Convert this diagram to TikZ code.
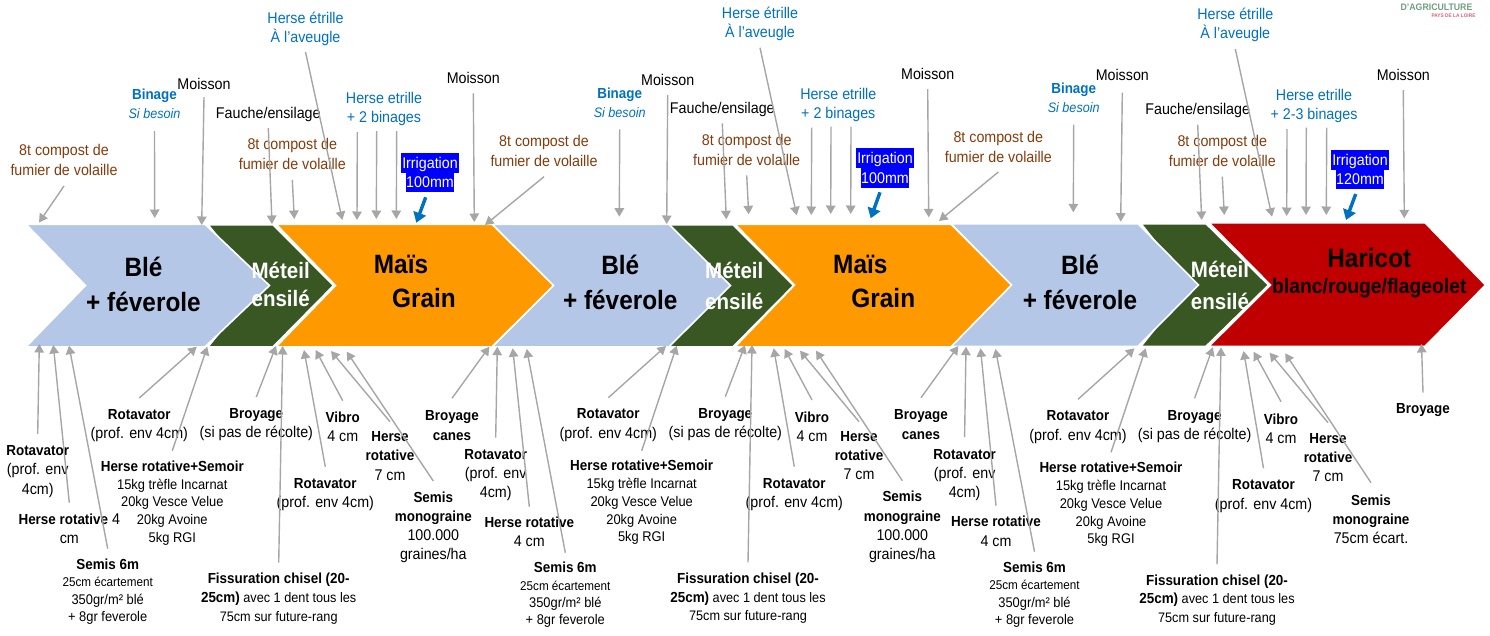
\documentclass[tikz,border=0pt]{standalone}
\usepackage{fontspec}
\setmainfont[FakeStretch=0.92]{Liberation Sans}
\usetikzlibrary{arrows.meta}
\definecolor{cgray}{HTML}{A6A6A6}
\definecolor{cbrown}{HTML}{843C0C}
\definecolor{cblue}{HTML}{0070C0}
\definecolor{cble}{HTML}{B4C7E7}
\definecolor{cgreen}{HTML}{385723}
\definecolor{corange}{HTML}{FF9900}
\definecolor{cred}{HTML}{C00000}
\definecolor{chigh}{HTML}{0000FF}
\definecolor{clogog}{HTML}{6FA080}
\definecolor{clogor}{HTML}{E06070}
\newcommand\bo[1]{{\fontsize{14.6}{19}\selectfont\bfseries #1}}
\newcommand\bigb[1]{{\fontsize{14.6}{17}\selectfont\bfseries #1}}
\newcommand\smb[1]{{\fontsize{12.7}{17.4}\selectfont #1}}
\newcommand\cn[4]{\coordinate (#1-t) at (#3,#4); \draw[arr] (#1 |- 0,#2) -- (#1-t);}
\newcommand\ci[5]{\coordinate (#1-s) at (#2,#3); \coordinate (#1-t) at (#4,#5); \draw[arrblue] (#1-s) -- (#1-t);}
\newcommand\cf[5]{\coordinate (#1-s) at (#2,#3); \coordinate (#1-t) at (#4,#5); \draw[arr] (#1-s) -- (#1-t);}
\tikzset{
  lab/.style={inner sep=0pt,align=center,font=\fontsize{15.5}{19.2}\selectfont},
  sml/.style={inner sep=0pt,align=center,font=\fontsize{14}{17.4}\selectfont},
  hsm/.style={inner sep=0pt,align=center,font=\fontsize{14}{17.7}\selectfont},
  chis/.style={inner sep=0pt,align=center,font=\fontsize{13.8}{18.8}\selectfont},
  brown/.style={lab,text=cbrown},
  blu/.style={lab,text=cblue},
  irr/.style={inner sep=0pt,fill=chigh,text=white,font=\fontsize{15.5}{19}\selectfont,minimum height=19.8pt,text depth=0pt},
  big/.style={inner sep=0pt,font=\fontsize{26.5}{30}\selectfont\bfseries},
  met/.style={inner sep=0pt,text=white,font=\fontsize{22.3}{24}\selectfont\bfseries},
  sh/.style={draw=white,line width=1.6pt,line join=miter},
  arr/.style={draw=cgray,line width=1.4pt,-{Triangle[width=9.5pt,length=8.5pt]}},
  arrblue/.style={draw=cblue,line width=3.4pt,-{Triangle[width=13pt,length=10pt]}},
}
\begin{document}
\begin{tikzpicture}[x=1pt,y=-1pt]
\useasboundingbox (0,0) rectangle (1490,635);
% band, right to left so that each tip lies over the next shape
\fill[cred,sh] (1209,222.7) -- (1425,222.7) -- (1485.5,285) -- (1425,346.3) -- (1209,346.3) -- (1270.5,285) -- cycle;
\fill[cgreen,sh] (1141,223.7) -- (1206,223.7) -- (1268.5,285) -- (1206,346.3) -- (1141,346.3) -- (1190,285) -- cycle;
\fill[cble,sh] (951,223.7) -- (1138,223.7) -- (1198.5,285) -- (1138,346.3) -- (951,346.3) -- (1010.5,285) -- cycle;
\fill[corange,sh] (735,224.2) -- (951,224.2) -- (1011.5,285) -- (951,346.8) -- (735,346.8) -- (794.5,285) -- cycle;
\fill[cgreen,sh] (668,224.7) -- (733,224.7) -- (793.5,285.5) -- (733,346.8) -- (668,346.8) -- (720,285.5) -- cycle;
\fill[cble,sh] (492,224.2) -- (669,224.2) -- (730.5,285.5) -- (669,346.8) -- (492,346.8) -- (552.5,285.5) -- cycle;
\fill[corange,sh] (276,224.2) -- (492,224.2) -- (553.5,285.5) -- (492,346.8) -- (276,346.8) -- (335.5,285.5) -- cycle;
\fill[cgreen,sh] (208,224.7) -- (273,224.7) -- (333.5,285.5) -- (273,346.8) -- (208,346.8) -- (258,285.5) -- cycle;
\fill[cble,sh] (26,224.2) -- (205,224.2) -- (269.5,285.5) -- (205,346.8) -- (26,346.8) -- (85.5,285.5) -- cycle;
% band texts
\node[big] (ble1a) at (143.5,266.5) {Blé};
\node[big] (ble1b) at (143.5,301.5) {+ féverole};
\node[met] (met1a) at (280.7,270.7) {Méteil};
\node[met] (met1b) at (280.7,298.3) {ensilé};
\node[big] (mais1a) at (401,264) {Maïs};
\node[big] (mais1b) at (424,297.7) {Grain};
\node[big] (ble2a) at (620.3,265) {Blé};
\node[big] (ble2b) at (620.3,300) {+ féverole};
\node[met] (met2a) at (734.3,270.7) {Méteil};
\node[met] (met2b) at (734.3,301.7) {ensilé};
\node[big] (mais2a) at (860.3,264) {Maïs};
\node[big] (mais2b) at (883.3,298) {Grain};
\node[big] (ble3a) at (1080,265) {Blé};
\node[big] (ble3b) at (1080,300) {+ féverole};
\node[met] (met3a) at (1220,269.3) {Méteil};
\node[met] (met3b) at (1220,301.7) {ensilé};
\node[big] (har) at (1369.3,258.3) {Haricot};
\node[inner sep=0pt,font=\fontsize{21}{24}\selectfont\bfseries] (harb) at (1369.3,288.3) {blanc/rouge/flageolet};
% logo remains
\node[inner sep=0pt,text=clogog,font=\fontsize{9.5}{10}\selectfont\bfseries] (logoa) at (1436.5,7) {D'AGRICULTURE};
\node[inner sep=0pt,text=clogor,font=\fontsize{5.2}{6}\selectfont\bfseries] (logob) at (1453.5,15.7) {PAYS DE LA LOIRE};
% top labels, first group
\node[brown] (cpa) at (64,160) {8t compost de\\fumier de volaille};
\node[blu] (bina) at (154.5,103.5) {\bo{Binage}\\{\fontsize{13.7}{19}\selectfont\itshape Si besoin}};
\node[lab] (moia) at (204,83.5) {Moisson};
\node[lab] (faua) at (268.3,114.2) {Fauche/ensilage};
\node[brown] (cqa) at (292.3,154) {8t compost de\\fumier de volaille};
\node[blu] (hea) at (305.5,28.5) {Herse étrille\\À l’aveugle};
\node[blu] (hba) at (384,109) {Herse etrille\\+ 2 binages};
\node[irr,minimum width=58pt] (iaa) at (430,162.7) {Irrigation};
\node[irr,minimum width=48pt] (iab) at (430,182.2) {100mm};
\node[lab] (mra) at (473.3,77.7) {Moisson};
\node[brown] (cra) at (544,151) {8t compost de\\fumier de volaille};
% top labels, second group
\node[blu] (binb) at (619.7,102.5) {\bo{Binage}\\{\fontsize{13.7}{19}\selectfont\itshape Si besoin}};
\node[lab] (moib) at (667.7,79.5) {Moisson};
\node[lab] (faub) at (722.3,109) {Fauche/ensilage};
\node[brown] (cqb) at (746.7,150) {8t compost de\\fumier de volaille};
\node[blu] (heb) at (760,23.5) {Herse étrille\\À l’aveugle};
\node[blu] (hbb) at (838.3,104.7) {Herse etrille\\+ 2 binages};
\node[irr,minimum width=58pt] (iba) at (885,157.9) {Irrigation};
\node[irr,minimum width=48pt] (ibb) at (885,177.6) {100mm};
\node[lab] (mrb) at (927.7,73.7) {Moisson};
\node[brown] (crb) at (998.3,147) {8t compost de\\fumier de volaille};
% top labels, third group
\node[blu] (binc) at (1073.7,97.5) {\bo{Binage}\\{\fontsize{13.7}{19}\selectfont\itshape Si besoin}};
\node[lab] (moic) at (1122.3,74.7) {Moisson};
\node[lab] (fauc) at (1197.7,110.2) {Fauche/ensilage};
\node[brown] (cqc) at (1222.3,151) {8t compost de\\fumier de volaille};
\node[blu] (hec) at (1235.3,25.2) {Herse étrille\\À l’aveugle};
\node[blu] (hbc) at (1314,106) {Herse etrille\\+ 2-3 binages};
\node[irr,minimum width=58pt] (ica) at (1360,159.8) {Irrigation};
\node[irr,minimum width=48pt] (icb) at (1360,179.4) {120mm};
\node[lab] (mrc) at (1403.3,74.7) {Moisson};
% bottom labels, first group
\node[lab] (roa) at (37.7,471.5) {\bo{Rotavator}\\(prof. env\\4cm)};
\node[lab] (hra) at (69.3,528.5) {\bo{Herse rotative} 4\\cm};
\node[sml] (sea) at (107.7,591.5) {\bigb{Semis 6m}\\\smb{25cm écartement}\\350gr/m² blé\\+ 8gr feverole};
\node[lab] (rba) at (139.3,425.8) {\bo{Rotavator}\\(prof. env 4cm)};
\node[hsm] (hsa) at (172.3,503) {\bigb{Herse rotative+Semoir}\\15kg trèfle Incarnat\\20kg Vesce Velue\\20kg Avoine\\5kg RGI};
\node[lab] (bra) at (256.3,424.7) {\bo{Broyage}\\(si pas de récolte)};
\node[chis] (cha) at (278.7,598.5) {\bigb{Fissuration chisel (20-}\\\bigb{25cm)} avec 1 dent tous les\\75cm sur future-rang};
\node[lab] (rca) at (325.3,494.7) {\bo{Rotavator}\\(prof. env 4cm)};
\node[lab] (via) at (342.7,427) {\bo{Vibro}\\4 cm};
\node[lab] (hsb) at (390,456) {\bo{Herse}\\\bo{rotative}\\7 cm};
\node[lab] (sma) at (433.3,527.5) {\bo{Semis}\\\bo{monograine}\\100.000\\graines/ha};
\node[lab] (bca) at (452,425.5) {\bo{Broyage}\\\bo{canes}};
% bottom labels, second group
\node[lab] (rob) at (495.7,475.2) {\bo{Rotavator}\\(prof. env\\4cm)};
\node[lab] (hrb) at (529.3,532) {\bo{Herse rotative}\\4 cm};
\node[sml] (seb) at (565.3,595) {\bigb{Semis 6m}\\\smb{25cm écartement}\\350gr/m² blé\\+ 8gr feverole};
\node[lab] (rbb) at (608.3,425) {\bo{Rotavator}\\(prof. env 4cm)};
\node[hsm] (hsc) at (641.7,502.5) {\bigb{Herse rotative+Semoir}\\15kg trèfle Incarnat\\20kg Vesce Velue\\20kg Avoine\\5kg RGI};
\node[lab] (brb) at (725.3,424.2) {\bo{Broyage}\\(si pas de récolte)};
\node[chis] (chb) at (748,598.3) {\bigb{Fissuration chisel (20-}\\\bigb{25cm)} avec 1 dent tous les\\75cm sur future-rang};
\node[lab] (rcb) at (794.3,494.2) {\bo{Rotavator}\\(prof. env 4cm)};
\node[lab] (vib) at (812,426.7) {\bo{Vibro}\\4 cm};
\node[lab] (hsd) at (859,455.5) {\bo{Herse}\\\bo{rotative}\\7 cm};
\node[lab] (smb) at (902.3,527) {\bo{Semis}\\\bo{monograine}\\100.000\\graines/ha};
\node[lab] (bcb) at (921,424.5) {\bo{Broyage}\\\bo{canes}};
% bottom labels, third group
\node[lab] (roc) at (964.6,475) {\bo{Rotavator}\\(prof. env\\4cm)};
\node[lab] (hrc) at (996,531.3) {\bo{Herse rotative}\\4 cm};
\node[sml] (sec) at (1034.5,594.5) {\bigb{Semis 6m}\\\smb{25cm écartement}\\350gr/m² blé\\+ 8gr feverole};
\node[lab] (rbc) at (1078,427) {\bo{Rotavator}\\(prof. env 4cm)};
\node[hsm] (hse) at (1111,504.5) {\bigb{Herse rotative+Semoir}\\15kg trèfle Incarnat\\20kg Vesce Velue\\20kg Avoine\\5kg RGI};
\node[lab] (brc) at (1194.6,426.5) {\bo{Broyage}\\(si pas de récolte)};
\node[chis] (chc) at (1217,600) {\bigb{Fissuration chisel (20-}\\\bigb{25cm)} avec 1 dent tous les\\75cm sur future-rang};
\node[lab] (rcc) at (1263.5,496) {\bo{Rotavator}\\(prof. env 4cm)};
\node[lab] (vic) at (1281,428.5) {\bo{Vibro}\\4 cm};
\node[lab] (hsf) at (1328,457.5) {\bo{Herse}\\\bo{rotative}\\7 cm};
\node[lab] (smc) at (1371,519.5) {\bo{Semis}\\\bo{monograine}\\75cm écart.};
\node[lab] (blast) at (1423,410) {\bo{Broyage}};
% connectors, top
\cn{cpa}{186}{39}{222.5}
\cn{bina}{131}{154.7}{218}
\cn{moia}{97}{201.7}{225}
\cn{faua}{128}{272}{224}
\cn{cqa}{180}{294.3}{219}
\cn{hea}{52}{342.3}{220}
\cf{hba1}{357.3}{132}{357}{220}
\cf{hba2}{376.7}{131}{376.3}{219}
\cf{hba3}{396.7}{131}{396.3}{219}
\ci{iw1}{425.7}{197.3}{416.3}{222.7}
\cn{mra}{93.3}{474.3}{222}
\cn{cra}{176.7}{485}{225}
\cn{binb}{129.3}{619.3}{216.7}
\cn{moib}{95}{666.7}{224}
\cn{faub}{123.3}{726.3}{219.3}
\cn{cqb}{175.3}{748.7}{214.3}
\cn{heb}{47.7}{796.7}{215.3}
\cf{hbb1}{811.7}{127.7}{811.3}{215}
\cf{hbb2}{831}{126.7}{830.7}{214}
\cf{hbb3}{851}{126.7}{850.7}{214}
\ci{iw2}{880}{192.3}{870.7}{218.3}
\cn{mrb}{89}{928.7}{217.3}
\cn{crb}{172}{939}{221}
\cn{binc}{124.7}{1073.3}{212.3}
\cn{moic}{92.7}{1120.7}{221.7}
\cn{fauc}{124.7}{1201.7}{220}
\cn{cqc}{176.7}{1224.3}{215}
\cn{hec}{49}{1272}{216.7}
\cf{hbc1}{1287}{129}{1286.7}{216}
\cf{hbc2}{1306.3}{127.7}{1306}{215}
\cf{hbc3}{1326.7}{127.7}{1326.3}{215}
\ci{iw3}{1355.7}{194}{1346}{220}
\cn{mrc}{90}{1404.3}{218.3}
% connectors, bottom
\cn{roa}{434}{39.3}{344}
\cn{hra}{502.7}{53.3}{345}
\cn{sea}{548.7}{69}{345.7}
\cn{rba}{398}{196.7}{346.7}
\cn{hsa}{450.7}{207.3}{346.7}
\cn{bra}{397}{276}{346}
\cn{cha}{562.7}{282.7}{346}
\cn{rca}{466.7}{304}{350}
\cn{via}{400.7}{315.7}{350}
\cn{hsb}{421.7}{331}{351}
\cn{sma}{481}{346.7}{351.7}
\cn{bca}{398.3}{489.3}{346.7}
\cn{rob}{437.7}{497.3}{346.7}
\cn{hrb}{506.7}{512.7}{348.3}
\cn{seb}{552.7}{526.7}{349}
\cn{rbb}{397.7}{666}{346}
\cn{hsc}{450.7}{676.7}{345.7}
\cn{brb}{396.7}{745}{345}
\cn{chb}{562.3}{752}{345}
\cn{rcb}{466.7}{773.7}{348.3}
\cn{vib}{400}{784.7}{349}
\cn{hsd}{421.7}{800}{350.7}
\cn{smb}{480.7}{816}{350.7}
\cn{bcb}{397.7}{958.3}{346}
\cn{roc}{437}{966}{346.7}
\cn{hrc}{505.7}{980.5}{348.3}
\cn{sec}{551.7}{995.4}{349}
\cn{rbc}{399.3}{1134.5}{348.3}
\cn{hse}{452.3}{1145.7}{348.3}
\cn{brc}{398.3}{1212.8}{347.3}
\cn{chc}{564.3}{1221}{347.3}
\cn{rcc}{468.3}{1243.6}{351}
\cn{vic}{401.7}{1253.7}{351.7}
\cn{hsf}{422.7}{1269.6}{352.7}
\cn{smc}{482.7}{1285.2}{353.3}
\cn{blast}{392.7}{1421.5}{344}
\end{tikzpicture}
\end{document}
